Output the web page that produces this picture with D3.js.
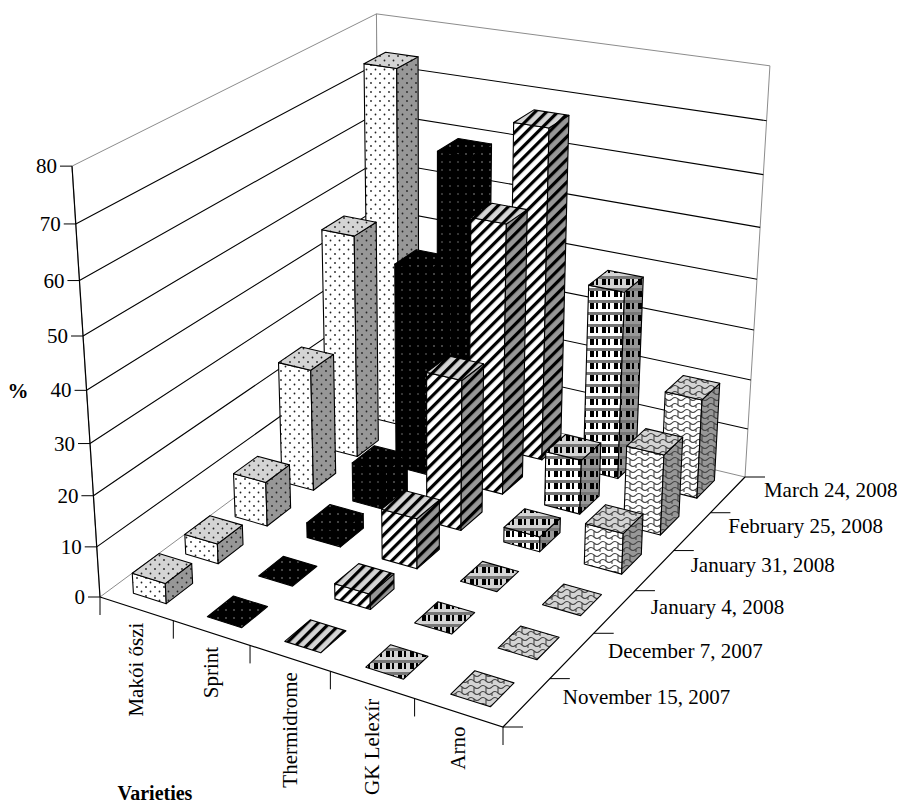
<!DOCTYPE html>
<html><head><meta charset="utf-8">
<script src="https://cdn.jsdelivr.net/npm/d3@7"></script>
<style>body{margin:0;background:#fff}text{font-family:"Liberation Serif",serif}</style>
</head><body><svg id="c" width="897" height="806"></svg>
<script>
const varieties=["Makói őszi","Sprint","Thermidrome","GK Lelexír","Arno"];
const dates=["November 15, 2007","December 7, 2007","January 4, 2008","January 31, 2008","February 25, 2008","March 24, 2008"];
const nov15=[4,0,0,0,0];
const dec7=[4,0,3,0,0];
const jan4=[9,3,10,0,0];
const jan31=[25,8,30,3,8];
const feb25=[46,42,54,11,16];
const mar24=[74,59,67,38,20];
const series=[nov15,dec7,jan4,jan31,feb25,mar24];
const yTicks=[0,10,20,30,40,50,60,70,80];

const svg=d3.select("#c");
const Q=[[100,597],[503,727],[745,477],[380,390]];
const VP=[430,5676];
function homog(){
  const [x0,y0]=Q[0],[x1,y1]=Q[1],[x2,y2]=Q[2],[x3,y3]=Q[3];
  const dx1=x1-x2,dx2=x3-x2,dx3=x0-x1+x2-x3,dy1=y1-y2,dy2=y3-y2,dy3=y0-y1+y2-y3;
  const den=dx1*dy2-dx2*dy1;
  const g=(dx3*dy2-dx2*dy3)/den,h=(dx1*dy3-dx3*dy1)/den;
  return {a:x1-x0+g*x1,b:x3-x0+h*x3,c:x0,d:y1-y0+g*y1,e:y3-y0+h*y3,f:y0,g,h};
}
const H=homog();
const kz=-0.0782/80;
function P(u,v,z){
  const X=H.a*u+H.b*v+H.c+kz*z*VP[0];
  const Y=H.d*u+H.e*v+H.f+kz*z*VP[1];
  const W=H.g*u+H.h*v+1+kz*z;
  return [X/W,Y/W];
}
const zS=d3.scaleLinear().domain([0,80]).range([0,80]);
const uS=d3.scaleBand().domain(varieties).range([0,1]).paddingInner(0.55).paddingOuter(0.275);
const vS=d3.scaleBand().domain(dates).range([0,1]).paddingInner(0.5).paddingOuter(0.25);
const uC=d3.scaleBand().domain(varieties).range([0,1]);
const vC=d3.scaleBand().domain(dates).range([0,1]);
const line=d3.line();
const poly=pts=>line(pts)+"Z";

const defs=svg.append("defs");
const shades=["#ffffff","#d4d4d4","#979797"];
function pat(id,w,h,draw,tf){const p=defs.append("pattern").attr("id",id).attr("patternUnits","userSpaceOnUse").attr("width",w).attr("height",h);if(tf)p.attr("patternTransform",tf);draw(p);}
shades.forEach((s,k)=>{
  pat("p0_"+k,9,9,p=>{p.append("rect").attr("width",9).attr("height",9).attr("fill",s);p.append("circle").attr("cx",2).attr("cy",2).attr("r",0.9).attr("fill","#222");p.append("circle").attr("cx",6.5).attr("cy",6.5).attr("r",0.9).attr("fill","#222");});
  pat("p1_"+k,8,8,p=>{p.append("rect").attr("width",8).attr("height",8).attr("fill","#000");p.append("circle").attr("cx",2).attr("cy",2).attr("r",0.8).attr("fill",k==0?"#777":"#999");});
  pat("p2_"+k,8,8,p=>{p.append("rect").attr("width",8).attr("height",8).attr("fill",s);p.append("rect").attr("x",0).attr("width",3.2).attr("height",8).attr("fill","#000");},"rotate(45)");
  pat("p3_"+k,12,12,p=>{p.append("rect").attr("width",12).attr("height",12).attr("fill",s);p.append("rect").attr("y",0).attr("width",12).attr("height",3).attr("fill","#777");p.append("rect").attr("x",2).attr("y",3).attr("width",4).attr("height",6).attr("fill","#000");p.append("rect").attr("x",8).attr("y",3).attr("width",2).attr("height",6).attr("fill","#000");});
  pat("p4_"+k,12,12,p=>{p.append("rect").attr("width",12).attr("height",12).attr("fill",s);p.append("path").attr("d","M0,3 Q3,0 6,3 T12,3 M6,3 L6,9 M0,9 Q3,6 6,9 T12,9 M0,9 L0,12 M12,9 L12,12").attr("fill","none").attr("stroke","#444").attr("stroke-width",1.1);});
});

const g=svg.append("g");
const gray="#8c8c8c";
g.append("path").attr("d",poly([P(0,0,0),P(0,1,0),P(0,1,80),P(0,0,80)])).attr("fill","#fff").attr("stroke",gray);
g.append("path").attr("d",poly([P(0,1,0),P(1,1,0),P(1,1,80),P(0,1,80)])).attr("fill","#fff").attr("stroke",gray);
yTicks.forEach(t=>{ if(t==0||t==80)return;
  g.append("path").attr("d",line([P(0,0,zS(t)),P(0,1,zS(t)),P(1,1,zS(t))])).attr("fill","none").attr("stroke","#000").attr("stroke-width",1.1);
});
g.append("path").attr("d",line([P(0,0,0),P(1,0,0),P(1,1,0)])).attr("fill","none").attr("stroke","#000").attr("stroke-width",1.2);
g.append("path").attr("d",line([P(0,0,0),P(0,0,80)])).attr("stroke","#000").attr("stroke-width",1.2);
yTicks.forEach(t=>{const p=P(0,0,zS(t));
  g.append("line").attr("x1",p[0]-12).attr("x2",p[0]).attr("y1",p[1]).attr("y2",p[1]).attr("stroke","#000");
  g.append("text").attr("x",p[0]-15).attr("y",p[1]+7).attr("text-anchor","end").attr("font-size",21).text(t);
});
for(let k=0;k<=5;k++){const p=P(k/5,0,0);g.append("line").attr("x1",p[0]).attr("x2",p[0]).attr("y1",p[1]).attr("y2",p[1]+18).attr("stroke","#000");}
varieties.forEach(vn=>{const p=P(uC(vn)+uC.bandwidth()/2,0,0);
  g.append("text").attr("transform",`translate(${p[0]+7},${p[1]+14}) rotate(-90)`).attr("text-anchor","end").attr("font-size",21).text(vn);});
for(let k=0;k<=6;k++){const p=P(1,k/6,0);g.append("line").attr("x1",p[0]).attr("x2",p[0]+20).attr("y1",p[1]).attr("y2",p[1]).attr("stroke","#000");}
dates.forEach(dn=>{const p=P(1,vC(dn)+vC.bandwidth()/2,0);
  g.append("text").attr("x",p[0]+36).attr("y",p[1]+2).attr("font-size",21).text(dn);});
svg.append("text").attr("x",155).attr("y",800).attr("text-anchor","middle").attr("font-size",20).attr("font-weight","bold").text("Varieties");
svg.append("text").attr("x",18).attr("y",398).attr("text-anchor","middle").attr("font-size",21).attr("font-weight","bold").text("%");

const bars=[];
series.forEach((vals,j)=>vals.forEach((val,i)=>bars.push({i,j,val})));
bars.sort((a,b)=>b.j-a.j||a.i-b.i);
const bg=svg.append("g");
bars.forEach(b=>{
  const u0=uS(varieties[b.i]),u1=u0+uS.bandwidth();
  const v0=vS(dates[b.j]),v1=v0+vS.bandwidth();
  const z=zS(b.val);
  const face=(pts,k)=>bg.append("path").attr("d",poly(pts)).attr("fill",`url(#p${b.i}_${k})`).attr("stroke","#000").attr("stroke-width",1.1).attr("stroke-linejoin","round");
  if(z>0){
    face([P(u0,v0,0),P(u1,v0,0),P(u1,v0,z),P(u0,v0,z)],0);
    face([P(u1,v0,0),P(u1,v1,0),P(u1,v1,z),P(u1,v0,z)],2);
  }
  face([P(u0,v0,z),P(u1,v0,z),P(u1,v1,z),P(u0,v1,z)],1);
});
</script></body></html>
